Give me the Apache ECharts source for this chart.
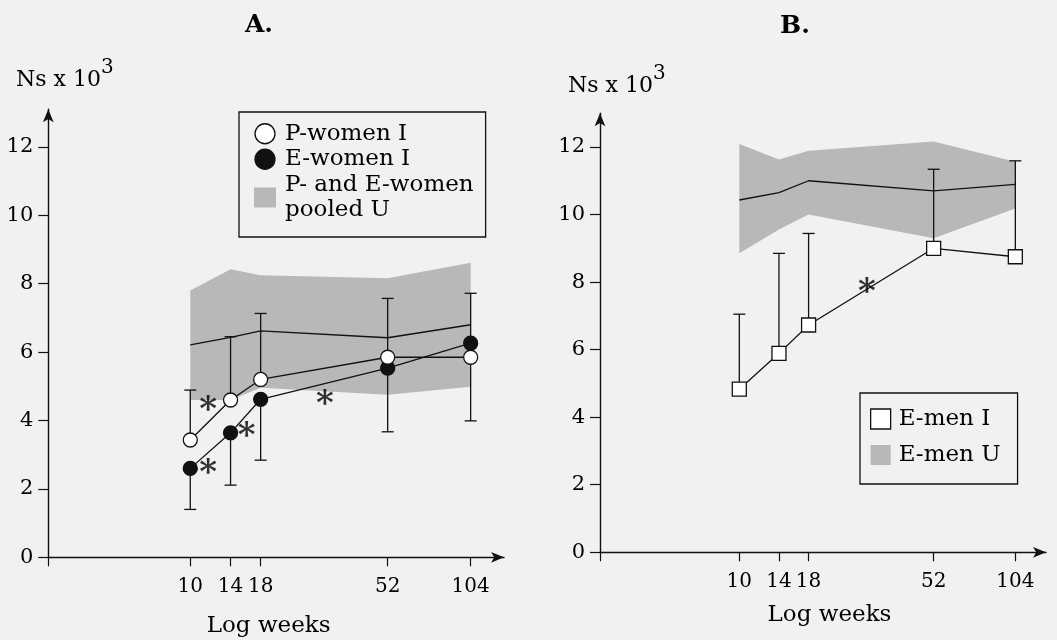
<!DOCTYPE html>
<html><head><meta charset="utf-8">
<script src="https://cdn.jsdelivr.net/npm/echarts@6/dist/echarts.min.js"></script>
<style>html,body{margin:0;padding:0;background:#f1f1f1}#c{width:1057px;height:640px}</style>
</head><body><div id="c"></div>
<script>
// ---------- data ----------
const weeks = [10, 14, 18, 52, 104];
const yTicks = [0, 2, 4, 6, 8, 10, 12];
// Panel A
const pWomenI       = [3.43, 4.60, 5.20, 5.85, 5.85];
const eWomenI       = [2.60, 3.64, 4.62, 5.53, 6.26];
const pooledUMean   = [6.21, 6.43, 6.62, 6.42, 6.80];
const pooledUUpper  = [7.80, 8.42, 8.25, 8.16, 8.61];
const pooledULower  = [4.60, 4.60, 4.96, 4.75, 4.99];
const womenErrUpper = [4.89, 6.45, 7.13, 7.57, 7.72];
const womenErrLower = [1.40, 2.11, 2.84, 3.67, 3.99];
const starsAWeeks   = [11.6, 11.6, 16.0, 30.8];
const starsAValues  = [4.55, 2.70, 3.77, 4.70];
// Panel B
const eMenI         = [4.83, 5.89, 6.73, 9.00, 8.75];
const eMenUMean     = [10.43, 10.65, 11.00, 10.70, 10.89];
const eMenUUpper    = [12.09, 11.63, 11.89, 12.16, 11.56];
const eMenULower    = [8.85, 9.56, 10.00, 9.30, 10.18];
const menErrUpper   = [7.05, 8.85, 9.44, 11.34, 11.59];
const starsBWeeks   = [29.5];
const starsBValues  = [7.94];

const nameP = 'P-women I', nameE = 'E-women I', nameBandA = 'P- and E-women\npooled U';
const nameM = 'E-men I', nameBandB = 'E-men U';

// ---------- styling ----------
const L = Math.log10;
const FONT = 'DejaVu Serif';
const INK = '#111111';
const TXT = '#000000';
const BAND = '#b8b8b8';
const LW = 1.3;

function pairs(vals) { return weeks.map((w, i) => [L(w), vals[i]]); }

function xAxisCfg(gridIndex, min, max, nameGap, namePad) {
  return {
    type: 'value', gridIndex, min, max,
    axisLine: { show: true, onZero: false, lineStyle: { color: INK, width: 1.4 }, symbol: ['none', 'arrow'], symbolSize: [8, 13] },
    axisTick: { show: true, length: 9, lineStyle: { color: INK, width: 1.2 }, customValues: [min].concat(weeks.map(L)) },
    axisLabel: { show: true, customValues: weeks.map(L), formatter: v => String(Math.round(Math.pow(10, v))), margin: 19, fontFamily: FONT, fontSize: 20, color: TXT },
    splitLine: { show: false },
    name: 'Log weeks', nameLocation: 'middle', nameGap,
    nameTextStyle: { fontFamily: FONT, fontSize: 23, color: TXT, padding: namePad }
  };
}
function yAxisCfg(gridIndex, max) {
  return {
    type: 'value', gridIndex, min: 0, max,
    axisLine: { show: true, onZero: false, lineStyle: { color: INK, width: 1.4 }, symbol: ['none', 'arrow'], symbolSize: [8, 13] },
    axisTick: { show: true, length: 10, lineStyle: { color: INK, width: 1.2 }, customValues: yTicks },
    axisLabel: { show: true, customValues: yTicks, margin: 15, fontFamily: FONT, fontSize: 21, color: TXT },
    splitLine: { show: false }
  };
}

function bandSeries(name, idx, lower, upper) {
  return {
    type: 'custom', name, xAxisIndex: idx, yAxisIndex: idx, silent: true, z: 1,
    itemStyle: { color: BAND },
    data: weeks.map((w, i) => [L(w), lower[i], upper[i]]),
    encode: { x: 0, y: [1, 2] },
    renderItem(params, api) {
      if (params.dataIndex !== 0) return null;
      const pts = [];
      for (let i = 0; i < weeks.length; i++) pts.push(api.coord([L(weeks[i]), upper[i]]));
      for (let i = weeks.length - 1; i >= 0; i--) pts.push(api.coord([L(weeks[i]), lower[i]]));
      return { type: 'polygon', shape: { points: pts }, style: { fill: BAND } };
    }
  };
}
function errSeries(idx, baseHi, hi, baseLo, lo) {
  return {
    type: 'custom', xAxisIndex: idx, yAxisIndex: idx, silent: true, z: 3,
    data: weeks.map((w, i) => [L(w), baseHi[i], hi[i], baseLo ? baseLo[i] : NaN, lo ? lo[i] : NaN]),
    encode: { x: 0, y: [1, 2] },
    renderItem(params, api) {
      const x = api.value(0), ch = [], cap = 6;
      const st = { stroke: INK, lineWidth: LW };
      const seg = (b, e) => {
        if (isNaN(b) || isNaN(e)) return;
        const p0 = api.coord([x, b]), p1 = api.coord([x, e]);
        ch.push({ type: 'line', shape: { x1: p0[0], y1: p0[1], x2: p1[0], y2: p1[1] }, style: st });
        ch.push({ type: 'line', shape: { x1: p1[0] - cap, y1: p1[1], x2: p1[0] + cap, y2: p1[1] }, style: st });
      };
      seg(api.value(1), api.value(2));
      seg(api.value(3), api.value(4));
      return { type: 'group', children: ch };
    }
  };
}
function meanSeries(idx, vals) {
  return { type: 'line', xAxisIndex: idx, yAxisIndex: idx, data: pairs(vals), symbol: 'none', silent: true, z: 3,
    lineStyle: { color: INK, width: LW } };
}
function markerSeries(name, idx, vals, symbol, fill) {
  return { type: 'line', name, xAxisIndex: idx, yAxisIndex: idx, data: pairs(vals), symbol, symbolSize: 14, z: 4,
    showAllSymbol: true, silent: true,
    lineStyle: { color: INK, width: LW },
    itemStyle: { color: fill, borderColor: INK, borderWidth: LW } };
}
function starSeries(idx, ws, vs) {
  return { type: 'scatter', xAxisIndex: idx, yAxisIndex: idx, silent: true, z: 5,
    data: ws.map((w, i) => [L(w), vs[i]]), symbolSize: 1, itemStyle: { color: 'rgba(0,0,0,0)' },
    label: { show: true, position: 'inside', formatter: '*', fontFamily: FONT, fontSize: 34, fontWeight: 'bold', color: TXT, offset: [0, 9] } };
}

const supRich = {
  m: { fontFamily: FONT, fontSize: 22, fontWeight: 'normal', color: TXT, lineHeight: 24 },
  s: { fontFamily: FONT, fontSize: 20, fontWeight: 'normal', color: TXT, lineHeight: 20, padding: [0, 0, 24, 0] }
};

const chart = echarts.init(document.getElementById('c'), null, { renderer: 'canvas' });
chart.setOption({
  backgroundColor: '#f1f1f1',
  animation: false,
  title: [
    { text: 'A.', left: 259, top: 13, textAlign: 'center', padding: 0, textStyle: { fontFamily: FONT, fontWeight: 'bold', fontSize: 25, color: TXT } },
    { text: 'B.', left: 795, top: 14, textAlign: 'center', padding: 0, textStyle: { fontFamily: FONT, fontWeight: 'bold', fontSize: 25, color: TXT } },
    { text: '{m|Ns x 10}{s|3}', left: 16, top: 68, padding: 0, textStyle: { fontWeight: 'normal', rich: supRich } },
    { text: '{m|Ns x 10}{s|3}', left: 568, top: 74, padding: 0, textStyle: { fontWeight: 'normal', rich: supRich } }
  ],
  legend: [
    { orient: 'vertical', left: 239, top: 112, padding: [9, 12, 14, 15], itemGap: 0, itemWidth: 22, itemHeight: 20,
      borderColor: INK, borderWidth: 1.3, selectedMode: false,
      textStyle: { fontFamily: FONT, fontSize: 23, color: TXT, lineHeight: 25.5, padding: [0, 0, 0, 4] },
      data: [
        { name: nameP, icon: 'circle', itemStyle: { color: '#fff', borderColor: INK, borderWidth: LW } },
        { name: nameE, icon: 'circle', itemStyle: { color: INK, borderColor: INK, borderWidth: LW } },
        { name: nameBandA, icon: 'rect', itemStyle: { color: BAND, borderWidth: 0 } }
      ] },
    { orient: 'vertical', left: 860, top: 393, padding: [13, 17, 16, 10], itemGap: 10, itemWidth: 20, itemHeight: 20,
      borderColor: INK, borderWidth: 1.3, selectedMode: false,
      textStyle: { fontFamily: FONT, fontSize: 23, color: TXT, lineHeight: 26, padding: [0, 0, 0, 3] },
      data: [
        { name: nameM, icon: 'rect', itemStyle: { color: '#fff', borderColor: INK, borderWidth: LW } },
        { name: nameBandB, icon: 'rect', itemStyle: { color: BAND, borderWidth: 0 } }
      ] }
  ],
  grid: [
    { left: 48.3, top: 109.3, width: 455.7, height: 448, outerBoundsMode: 'none', containLabel: false },
    { left: 600, top: 113.2, width: 446, height: 439.1, outerBoundsMode: 'none', containLabel: false }
  ],
  xAxis: [ xAxisCfg(0, 0.485, 2.138, 57, [0, 15, 0, 0]), xAxisCfg(1, 0.4867, 2.13, 51, [0, 0, 0, 13]) ],
  yAxis: [ yAxisCfg(0, 13.1), yAxisCfg(1, 13.0) ],
  series: [
    bandSeries(nameBandA, 0, pooledULower, pooledUUpper),
    meanSeries(0, pooledUMean),
    errSeries(0, weeks.map((w, i) => Math.max(pWomenI[i], eWomenI[i])), womenErrUpper,
                 weeks.map((w, i) => Math.min(pWomenI[i], eWomenI[i])), womenErrLower),
    markerSeries(nameE, 0, eWomenI, 'circle', INK),
    markerSeries(nameP, 0, pWomenI, 'circle', '#fff'),
    starSeries(0, starsAWeeks, starsAValues),

    bandSeries(nameBandB, 1, eMenULower, eMenUUpper),
    meanSeries(1, eMenUMean),
    errSeries(1, eMenI, menErrUpper, null, null),
    markerSeries(nameM, 1, eMenI, 'rect', '#fff'),
    starSeries(1, starsBWeeks, starsBValues)
  ]
});
</script>
</body></html>
